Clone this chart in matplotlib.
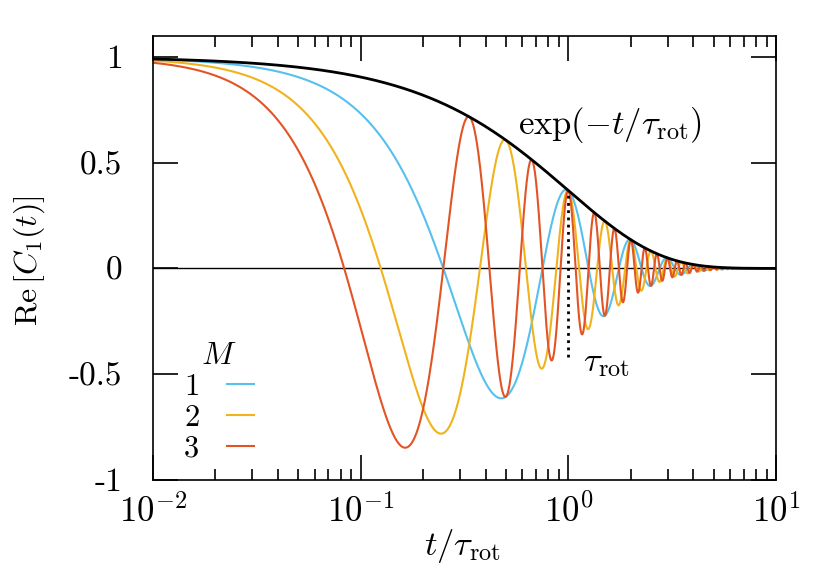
import numpy as np
import matplotlib
matplotlib.use("Agg")
from matplotlib import pyplot as plt
from matplotlib.ticker import LogLocator, FixedLocator

plt.rcParams['mathtext.fontset'] = 'cm'
plt.rcParams['font.family'] = 'serif'
plt.rcParams['font.serif'] = ['cmr10', 'DejaVu Serif']
plt.rcParams['axes.formatter.use_mathtext'] = True

# values: decay time and oscillation order M
tau_rot = 1.0
M_values = [1, 2, 3]
colors = ['#56C0EE', '#F1B31C', '#E35425']
y_ticks = [-1, -0.5, 0, 0.5, 1]
y_ticklabels = ['-1', '-0.5', '0', '0.5', '1']
x_ticks = [1e-2, 1e-1, 1e0, 1e1]

t = np.logspace(-2, 1, 4000)
envelope = np.exp(-t / tau_rot)

fig = plt.figure(figsize=(8.31, 5.86), dpi=100)
ax = fig.add_axes([0.184, 0.181, 0.750, 0.758])

ax.axhline(0, color='k', lw=1.0, zorder=1)
for M, c in zip(M_values, colors):
    ax.plot(t, envelope * np.cos(2 * np.pi * M * t / tau_rot), color=c, lw=1.5, label=str(M), zorder=2)
ax.plot(t, envelope, color='k', lw=2.0, zorder=3)
ax.plot([tau_rot, tau_rot], [-0.42, np.exp(-1)], color='k', ls=(0, (1, 1.6)), lw=2.0, zorder=3)

ax.text(0.57, 0.68, r'$\exp(-t/\tau_{\rm rot})$', fontsize=25, va='center', ha='left')
ax.text(1.17, -0.45, r'$\tau_{\rm rot}$', fontsize=25, va='center', ha='left')

ax.set_xscale('log')
ax.set_xlim(1e-2, 1e1)
ax.set_ylim(-1, 1.1)
ax.xaxis.set_major_locator(FixedLocator(x_ticks))
ax.xaxis.set_minor_locator(LogLocator(base=10, subs=np.arange(2, 10), numticks=20))
ax.set_yticks(y_ticks)
ax.set_yticklabels(y_ticklabels)

ax.tick_params(axis='both', which='both', direction='in', top=True, right=True, width=1.2)
ax.tick_params(axis='both', which='major', length=18)
ax.tick_params(axis='both', which='minor', length=8)
ax.tick_params(axis='y', labelsize=24, pad=22)
ax.tick_params(axis='x', labelsize=25, pad=10)
for s in ax.spines.values():
    s.set_linewidth(1.2)

ax.set_xlabel(r'$t/\tau_{\rm rot}$', fontsize=25)
ax.set_ylabel(r'${\rm Re}\,[C_1(t)]$', fontsize=23)
ax.xaxis.set_label_coords(0.497, -0.105)
ax.yaxis.set_label_coords(-0.17, 0.493)

leg = ax.legend(title=r'$M$', loc='upper left', bbox_to_anchor=(0.05, 0.31), frameon=False,
                markerfirst=False, fontsize=22, title_fontsize=23, handlelength=0.9,
                handletextpad=0.9, labelspacing=0.12, borderpad=0.0, borderaxespad=0.0)

fig.savefig('out.png', dpi=100)
